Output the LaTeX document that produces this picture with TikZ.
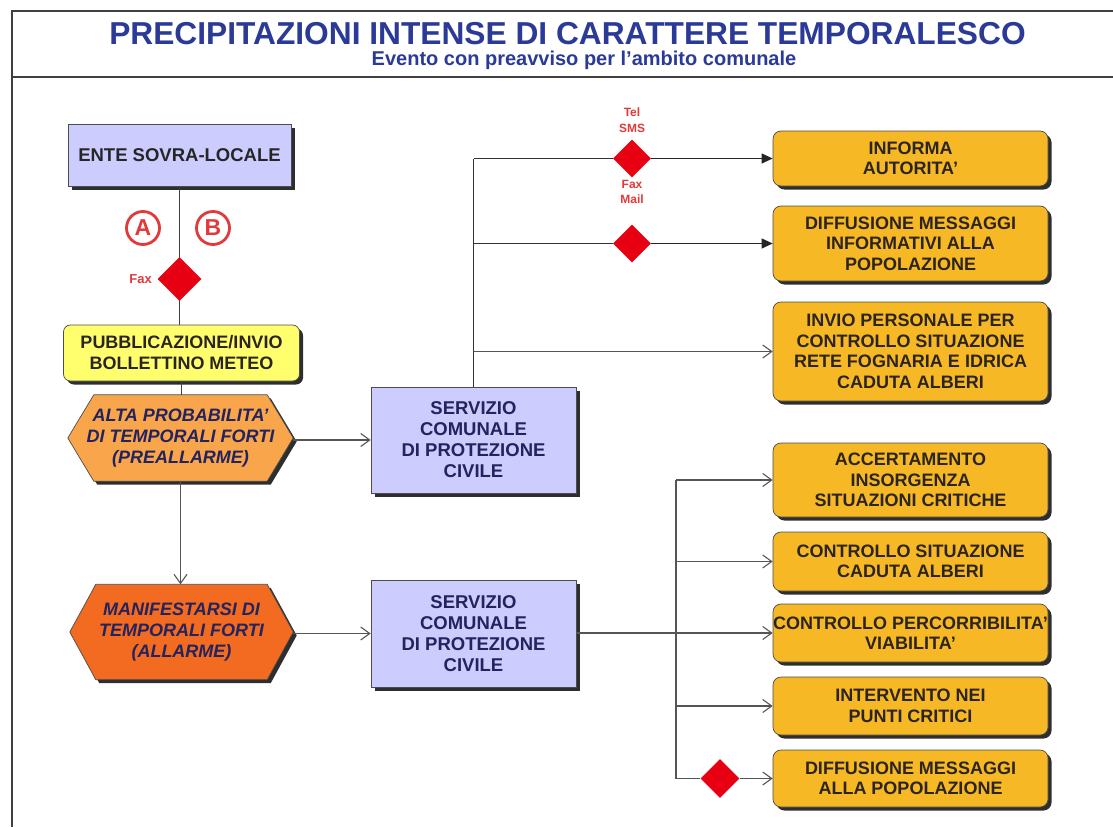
\documentclass[tikz,border=0pt]{standalone}
\usepackage{fontspec}
\setmainfont{Liberation Sans}
\usetikzlibrary{arrows.meta,shapes.geometric,shadows,backgrounds}
\definecolor{lav}{HTML}{CCCCFF}
\definecolor{yel}{HTML}{FFFF6E}
\definecolor{gold}{HTML}{F6B824}
\definecolor{orl}{HTML}{F9A54B}
\definecolor{ord}{HTML}{F26B21}
\definecolor{redd}{HTML}{E60012}
\definecolor{redt}{HTML}{E03A3A}
\definecolor{tblue}{HTML}{2A3A96}
\definecolor{navy}{HTML}{23235E}
\definecolor{btxt}{HTML}{2B2420}
\definecolor{shad}{HTML}{2E2E2E}
\definecolor{lgray}{HTML}{555555}
\newcommand\hexshape[1]{(#1.west) -- ([xshift=26pt]#1.north west) -- ([xshift=-26pt]#1.north east) -- (#1.east) -- ([xshift=-26pt]#1.south east) -- ([xshift=26pt]#1.south west) -- cycle}
\tikzset{
  boxshadow/.style={drop shadow={shadow xshift=3.5pt,shadow yshift=-3.5pt,fill=shad,opacity=1}},
  lavbox/.style={draw=black!70,line width=0.7pt,fill=lav,boxshadow,inner sep=0pt,align=center,font=\fontsize{18.5}{21}\selectfont\bfseries,text=navy},
  yelbox/.style={draw=black!70,line width=0.7pt,fill=yel,rounded corners=7pt,boxshadow,inner sep=0pt,align=center,font=\fontsize{18}{21}\selectfont\bfseries,text=btxt},
  goldbox/.style={draw=black!70,line width=0.7pt,fill=gold,rounded corners=8pt,boxshadow,inner sep=0pt,align=center,minimum width=275pt,font=\fontsize{18}{20.5}\selectfont\bfseries,text=btxt},
  hextext/.style={inner sep=0pt,align=center,font=\fontsize{18}{21}\selectfont\bfseries\itshape,text=navy},
  reddiam/.style={diamond,fill=redd,draw=none,inner sep=0pt,minimum width=#1,minimum height=#1},
  redlab/.style={text=redt,font=\fontsize{12}{13}\selectfont\bfseries,inner sep=0pt},
  circ/.style={circle,draw=redt,line width=2.8pt,fill=white,minimum size=33pt,inner sep=0pt,text=redt,font=\fontsize{23}{23}\selectfont\bfseries},
  conn/.style={draw=lgray,line width=1.1pt},
  openarr/.style={conn,-{Straight Barb[length=9pt,width=13pt,line width=1.1pt]}},
  fillarr/.style={draw=black!85,line width=1.1pt,-{Triangle[length=11pt,width=10pt]}},
  frame/.style={draw=black!75,line width=2.2pt}
}
\begin{document}
\begin{tikzpicture}[x=1pt,y=-1pt]
\useasboundingbox (0,0) rectangle (1113,827);
% frame
\draw[frame] (12,827) -- (12,11) -- (1113,11);
\draw[frame] (12,77) -- (1113,77);
% title
\node[text=tblue,font=\fontsize{31.7}{35}\selectfont\bfseries,inner sep=0pt] (title) at (567.5,34) {PRECIPITAZIONI INTENSE DI CARATTERE TEMPORALESCO};
\node[text=tblue,font=\fontsize{20}{22}\selectfont\bfseries,inner sep=0pt] (subtitle) at (584,60) {Evento con preavviso per l'ambito comunale};

% left column
\node[lavbox,minimum width=223pt,minimum height=62pt,text=black!85] (ente) at (179.5,155) {ENTE SOVRA-LOCALE};
\node[yelbox,minimum width=236pt,minimum height=56pt] (pub) at (181.5,353) {PUBBLICAZIONE/INVIO\\BOLLETTINO METEO};
\node[hextext,minimum width=225pt,minimum height=86pt] (alta) at (180.5,438) {ALTA PROBABILITA'\\DI TEMPORALI FORTI\\(PREALLARME)};
\node[hextext,minimum width=223pt,minimum height=95pt] (manif) at (181.5,632) {MANIFESTARSI DI\\TEMPORALI FORTI\\(ALLARME)};
\begin{scope}[on background layer]
  \fill[shad,transform canvas={shift={(3.5pt,-3.5pt)}}] \hexshape{alta};
  \filldraw[fill=orl,draw=black!70,line width=0.7pt] \hexshape{alta};
  \fill[shad,transform canvas={shift={(3.5pt,-3.5pt)}}] \hexshape{manif};
  \filldraw[fill=ord,draw=black!70,line width=0.7pt] \hexshape{manif};
\end{scope}

% ente -> pub with circles and fax diamond
\draw[conn,draw=black!75] (ente.south) -- (ente.south |- pub.north);
\node[circ] (ca) at (143,228) {A};
\node[circ] (cb) at (213,228) {B};
\node[reddiam=44pt] (dfax) at (179.5,279) {};
\node[redlab,anchor=east,font=\fontsize{13}{14}\selectfont\bfseries] (faxlab) at (152,279) {Fax};
\draw[conn,draw=black!75] (pub.south) -- (pub.south |- alta.north);

% servizio boxes
\node[lavbox,minimum width=205pt,minimum height=106pt] (s1) at (473.5,440) {SERVIZIO\\COMUNALE\\DI PROTEZIONE\\CIVILE};
\node[lavbox,minimum width=205pt,minimum height=107pt] (s2) at (473.5,633.5) {SERVIZIO\\COMUNALE\\DI PROTEZIONE\\CIVILE};
\draw[openarr] (alta.east |- s1.west) -- (s1.west);
\draw[openarr] (alta.south) -- (alta.south |- manif.north);
\draw[openarr] (manif.east |- s2.west) -- (s2.west);

% upper right boxes
\node[goldbox,minimum height=55pt] (inf) at (910.5,158.5) {INFORMA\\AUTORITA'};
\node[goldbox,minimum height=75pt] (dif1) at (910.5,243.5) {DIFFUSIONE MESSAGGI\\INFORMATIVI ALLA\\POPOLAZIONE};
\node[goldbox,minimum height=99pt] (inv) at (910.5,351.5) {INVIO PERSONALE PER\\CONTROLLO SITUAZIONE\\RETE FOGNARIA E IDRICA\\CADUTA ALBERI};

\coordinate (j1) at (s1.north |- inf.west);
\coordinate (j2) at (s1.north |- dif1.west);
\coordinate (j3) at (s1.north |- inv.west);
\node[reddiam=38pt] (d1) at (632,158.5) {};
\node[reddiam=38pt] (d2) at (632,243.5) {};
\draw[draw=black!80,line width=1.1pt] (s1.north) -- (j1);
\draw[draw=black!80,line width=1.1pt] (j1) -- (d1.west);
\draw[fillarr] (d1.east) -- (inf.west);
\draw[draw=black!80,line width=1.1pt] (j2) -- (d2.west);
\draw[fillarr] (d2.east) -- (dif1.west);
\draw[openarr] (j3) -- (inv.west);
\node[redlab,align=center,font=\fontsize{12}{15.5}\selectfont\bfseries] (telsms) at (632,120) {Tel\\SMS};
\node[redlab,align=center,font=\fontsize{12}{15.5}\selectfont\bfseries] (faxmail) at (632,192) {Fax\\Mail};

% lower right boxes
\node[goldbox,minimum height=74pt] (acc) at (910.5,480) {ACCERTAMENTO\\INSORGENZA\\SITUAZIONI CRITICHE};
\node[goldbox,minimum height=59pt] (csit) at (910.5,561.5) {CONTROLLO SITUAZIONE\\CADUTA ALBERI};
\node[goldbox,minimum height=58pt] (cper) at (910.5,633) {CONTROLLO PERCORRIBILITA'\\VIABILITA'};
\node[goldbox,minimum height=58pt] (intv) at (910.5,706) {INTERVENTO NEI\\PUNTI CRITICI};
\node[goldbox,minimum height=57pt] (dif2) at (910.5,778.5) {DIFFUSIONE MESSAGGI\\ALLA POPOLAZIONE};

\coordinate (b1) at (676,480);
\coordinate (b2) at (676,561.5);
\coordinate (b4) at (676,706);
\coordinate (b5) at (676,778.5);
\node[reddiam=39pt] (d5) at (720,778.5) {};
\draw[conn] (b1) -- (b5);
\draw[openarr] (b1) -- (acc.west);
\draw[openarr] (b2) -- (csit.west);
\draw[openarr] (s2.east |- cper.west) -- (cper.west);
\draw[openarr] (b4) -- (intv.west);
\draw[conn] (b5) -- (d5.west);
\draw[openarr] (d5.east) -- (dif2.west);
\end{tikzpicture}
\end{document}
